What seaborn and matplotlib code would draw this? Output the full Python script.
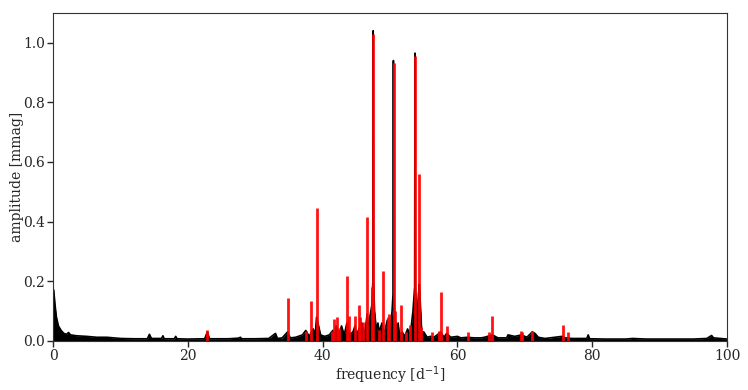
import numpy as np
import pandas as pd
import matplotlib
matplotlib.use("Agg")
import matplotlib.pyplot as plt
import seaborn as sns

# black amplitude spectrum (freq in d^-1, amp in mmag)
spec_freq = [0.0, 0.1, 0.3, 0.5, 0.8, 1.2, 1.6, 2.0, 2.3, 2.6, 3.5, 5.0, 6.5, 8.0, 10.0,
             12.0, 14.0, 14.3, 14.6, 16.1, 16.3, 16.5, 18.0, 18.2, 18.4, 20.0, 22.5, 22.9,
             23.2, 26.0, 27.5, 27.8, 28.0, 30.0, 32.0, 33.0, 33.3, 34.0, 34.8, 35.2, 36.0,
             37.0, 37.5, 38.0, 38.6, 38.9, 39.1, 39.3, 39.7, 40.3, 41.0, 41.5, 41.8, 42.0,
             42.4, 42.8, 43.2, 43.6, 44.0, 44.5, 44.8, 45.0, 45.4, 45.8, 46.2, 46.4, 46.6,
             46.8, 47.0, 47.3, 47.45, 47.5, 47.55, 47.7, 48.0, 48.2, 48.4, 48.8, 49.2,
             49.4, 49.6, 50.0, 50.3, 50.45, 50.5, 50.55, 50.7, 51.0, 51.2, 51.4, 51.8,
             52.2, 52.6, 53.0, 53.4, 53.65, 53.7, 53.75, 54.0, 54.2, 54.35, 54.7, 55.0,
             55.5, 56.0, 56.5, 57.0, 57.5, 58.0, 58.4, 59.0, 60.0, 60.5, 61.5, 62.5, 63.5,
             64.0, 65.2, 66.0, 67.3, 67.5, 68.5, 69.5, 70.3, 71.1, 71.5, 72.0, 73.0, 74.5,
             75.5, 76.0, 77.0, 79.2, 79.4, 79.6, 82.0, 85.0, 86.0, 88.0, 90.0, 92.0, 95.0,
             97.0, 97.7, 98.0, 100.0]
spec_amp = [0.175, 0.17, 0.12, 0.08, 0.05, 0.035, 0.025, 0.022, 0.028, 0.02, 0.017, 0.015,
            0.012, 0.012, 0.008, 0.007, 0.007, 0.022, 0.008, 0.008, 0.017, 0.007, 0.007,
            0.015, 0.007, 0.006, 0.007, 0.03, 0.007, 0.007, 0.009, 0.012, 0.007, 0.007,
            0.008, 0.025, 0.008, 0.01, 0.03, 0.01, 0.012, 0.02, 0.035, 0.015, 0.04, 0.02,
            0.08, 0.06, 0.02, 0.015, 0.02, 0.035, 0.015, 0.05, 0.02, 0.05, 0.02, 0.06,
            0.02, 0.03, 0.05, 0.02, 0.04, 0.06, 0.02, 0.05, 0.09, 0.03, 0.08, 0.12, 0.2,
            1.04, 0.2, 0.1, 0.03, 0.06, 0.03, 0.06, 0.02, 0.05, 0.07, 0.03, 0.1, 0.16,
            0.94, 0.16, 0.08, 0.03, 0.06, 0.02, 0.03, 0.015, 0.04, 0.02, 0.1, 0.18, 0.965,
            0.18, 0.08, 0.15, 0.19, 0.03, 0.03, 0.012, 0.015, 0.012, 0.02, 0.03, 0.012,
            0.025, 0.012, 0.015, 0.01, 0.012, 0.01, 0.01, 0.012, 0.02, 0.01, 0.01, 0.02,
            0.015, 0.02, 0.012, 0.03, 0.025, 0.012, 0.008, 0.012, 0.015, 0.01, 0.008,
            0.008, 0.02, 0.007, 0.006, 0.006, 0.008, 0.006, 0.006, 0.006, 0.006, 0.008,
            0.018, 0.01, 0.006]

# extracted frequencies (red)
mode_freq = [22.9, 34.85, 37.5, 38.2, 39.1, 41.45, 41.7, 42.1, 42.4, 43.6, 43.9, 44.8,
             45.35, 45.55, 45.95, 46.55, 47.3, 47.5, 48.3, 48.95, 49.65, 49.85, 50.55,
             50.8, 51.6, 52.3, 53.0, 53.7, 54.3, 54.6, 56.2, 57.2, 57.55, 58.4, 61.5,
             64.65, 65.2, 69.4, 69.6, 71.1, 75.7, 76.4]
mode_amp = [0.035, 0.145, 0.033, 0.134, 0.446, 0.033, 0.073, 0.08, 0.043, 0.216, 0.084,
            0.084, 0.12, 0.08, 0.064, 0.417, 0.18, 1.03, 0.037, 0.233, 0.08, 0.09, 0.933,
            0.1, 0.12, 0.03, 0.054, 0.955, 0.56, 0.045, 0.03, 0.033, 0.165, 0.05, 0.031,
            0.031, 0.084, 0.033, 0.03, 0.034, 0.054, 0.031]

sns.set_style("ticks")
plt.rcParams['font.family'] = ['DejaVu Serif']
plt.rcParams['font.size'] = 10

df = pd.DataFrame({'freq': spec_freq, 'amp': spec_amp})

fig = plt.figure(figsize=(7.48, 3.9), dpi=100)
ax = fig.add_axes([0.0709, 0.126, 0.9011, 0.841])

ax.fill_between(df['freq'], 0, df['amp'], color='black', lw=0)
sns.lineplot(data=df, x='freq', y='amp', color='black', lw=1.2, ax=ax)
ax.vlines(mode_freq, 0, mode_amp, color='red', lw=2.0, alpha=0.92)

ax.set_xlim(0, 100)
ax.set_ylim(0, 1.1)
ax.set_xticks([0, 20, 40, 60, 80, 100])
ax.set_yticks([0.0, 0.2, 0.4, 0.6, 0.8, 1.0])
ax.tick_params(length=4, width=1, pad=2)
ax.set_xlabel('frequency [d$^{-1}$]', labelpad=1)
ax.set_ylabel('amplitude [mmag]', labelpad=-1)
for s in ax.spines.values():
    s.set_visible(True)
    s.set_color('#333333')

fig.savefig('out.png', dpi=100)
